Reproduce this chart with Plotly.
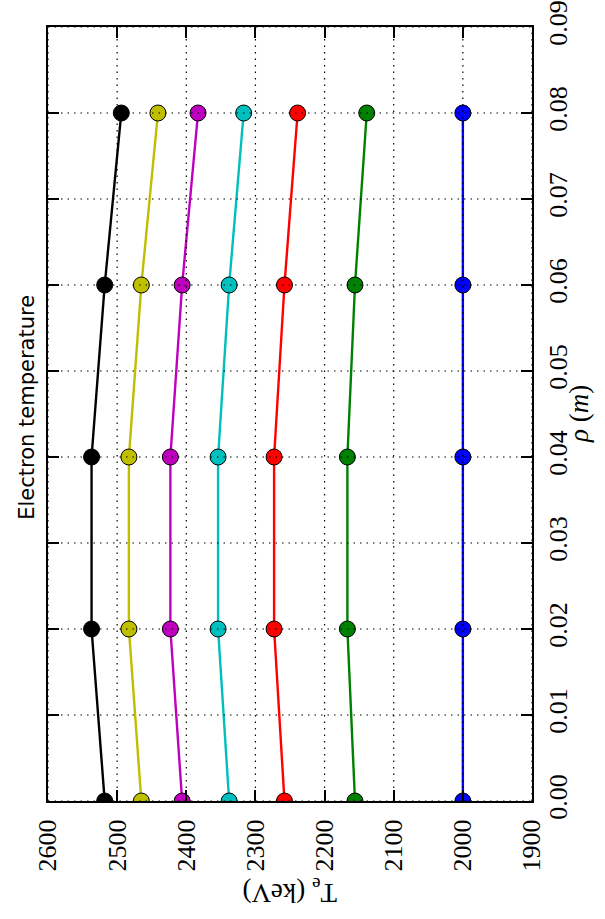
import plotly.graph_objects as go

# Minor radius positions (m)
rho = [0.00, 0.02, 0.04, 0.06, 0.08]

# Electron temperature profiles (keV), one per scenario
te_blue = [2000, 2000, 2000, 2000, 2000]
te_green = [2156, 2167, 2167, 2156, 2139]
te_red = [2258, 2273, 2273, 2258, 2239]
te_cyan = [2338, 2354, 2354, 2338, 2317]
te_magenta = [2406, 2423, 2423, 2406, 2383]
te_yellow = [2465, 2483, 2483, 2465, 2441]
te_black = [2518, 2537, 2537, 2518, 2494]

# Axis ticks
te_ticks = [2600, 2500, 2400, 2300, 2200, 2100, 2000, 1900]
rho_ticks = [0.00, 0.01, 0.02, 0.03, 0.04, 0.05, 0.06, 0.07, 0.08, 0.09]

series = [
    (te_blue, "#0000ff"),
    (te_green, "#008000"),
    (te_red, "#ff0000"),
    (te_cyan, "#00bfbf"),
    (te_magenta, "#bf00bf"),
    (te_yellow, "#bfbf00"),
    (te_black, "#000000"),
]

fig = go.Figure()
for te, color in series:
    fig.add_trace(go.Scatter(
        x=te, y=rho, mode="lines+markers",
        line=dict(color=color, width=2.4),
        marker=dict(size=16, color=color, line=dict(color="black", width=1)),
        showlegend=False,
    ))

# Dotted grid drawn on top of the curves
grid = dict(color="black", width=1.2, dash="1.5px,5px")
for t in te_ticks:
    fig.add_shape(type="line", xref="x", yref="paper", x0=t, x1=t, y0=0, y1=1,
                  line=grid, layer="above")
for r in rho_ticks:
    fig.add_shape(type="line", xref="paper", yref="y", x0=0, x1=1, y0=r, y1=r,
                  line=grid, layer="above")

serif = "Liberation Serif"
tick_font = dict(family=serif, size=26, color="black")
fig.update_layout(
    template="none",
    font=dict(family=serif, size=26, color="black"),
    width=605, height=919, autosize=False,
    margin=dict(l=48, r=73, t=27, b=118),
    paper_bgcolor="white", plot_bgcolor="white",
)
fig.update_xaxes(
    range=[2600, 1900], tickmode="array", tickvals=te_ticks,
    ticktext=[str(t) for t in te_ticks],
    tickangle=-90, tickfont=tick_font, ticklabelstandoff=6,
    ticklabeloverflow="allow",
    ticks="inside", ticklen=11, tickwidth=1.5, tickcolor="black",
    showline=True, linewidth=2, linecolor="black", mirror="ticks",
    showgrid=False, zeroline=False, layer="above traces", automargin=False,
)
fig.update_yaxes(
    range=[0, 0.09], tickmode="array", tickvals=rho_ticks,
    ticktext=[f"{r:.2f}" for r in rho_ticks],
    side="right", tickangle=-90, tickfont=tick_font, ticklabelstandoff=2,
    ticklabeloverflow="allow",
    ticks="inside", ticklen=11, tickwidth=1.5, tickcolor="black",
    showline=True, linewidth=2, linecolor="black", mirror="ticks",
    showgrid=False, zeroline=False, layer="above traces", automargin=False,
)
fig.update_layout(annotations=[
    dict(text="Electron temperature", xref="paper", yref="paper",
         x=-0.044, y=0.509, textangle=-90, showarrow=False,
         xanchor="center", yanchor="middle",
         font=dict(family="DejaVu Sans", size=21, color="black")),
    dict(text="T<sub>e</sub> (keV)", xref="paper", yref="paper",
         x=0.5, y=-0.117, textangle=180, showarrow=False,
         xanchor="center", yanchor="middle",
         font=dict(family=serif, size=27, color="black")),
    dict(text="<i>ρ</i> (<i>m</i>)", xref="paper", yref="paper",
         x=1.097, y=0.5, textangle=-90, showarrow=False,
         xanchor="center", yanchor="middle",
         font=dict(family=serif, size=27, color="black")),
])

fig.write_html("out.html")
